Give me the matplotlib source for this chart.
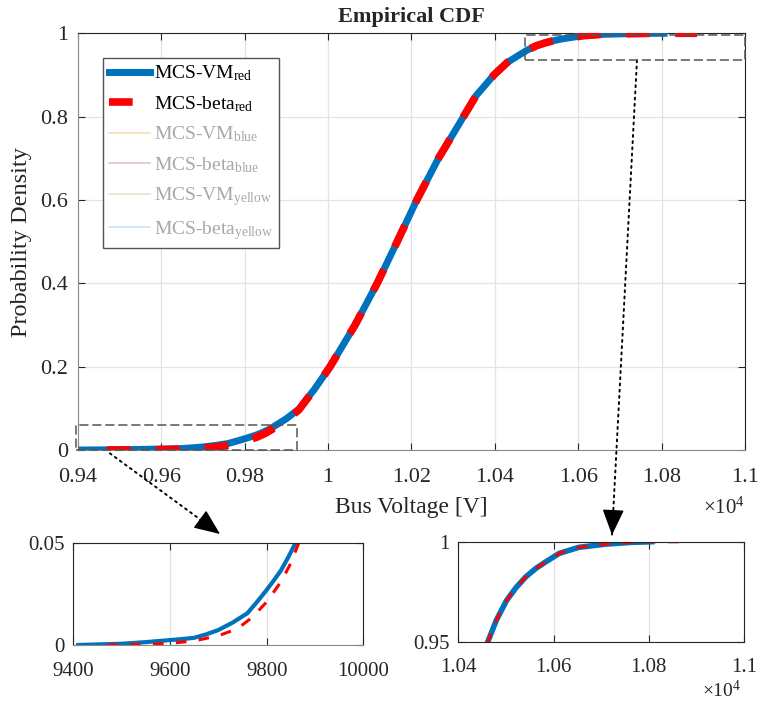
import matplotlib
matplotlib.use("Agg")
import matplotlib.pyplot as plt
from matplotlib.patches import Rectangle

plt.rcParams['font.family'] = ['Liberation Serif', 'DejaVu Serif']
plt.rcParams['mathtext.fontset'] = 'custom'
plt.rcParams['mathtext.rm'] = 'Liberation Serif'
plt.rcParams['mathtext.it'] = 'Liberation Serif:italic'
plt.rcParams['mathtext.bf'] = 'Liberation Serif:bold'
plt.rcParams['text.color'] = '#262626'
plt.rcParams['axes.labelcolor'] = '#262626'

# empirical CDFs, bus voltage in V
vm_x = [9410, 9500, 9550, 9600, 9625, 9650, 9675, 9700, 9730, 9760, 9780, 9800,
        9815, 9830, 9845, 9860, 9900, 9930, 9967,
        10005, 10065, 10118, 10166, 10213, 10265, 10325, 10355, 10398, 10430,
        10462, 10480, 10501, 10521, 10542, 10563, 10584, 10612, 10653, 10709,
        10764, 10806]
vm_f = [0.0, 0.0006, 0.0014, 0.0024, 0.0029, 0.0035, 0.0052, 0.0073, 0.011,
        0.0155, 0.021, 0.0269, 0.0316, 0.0366, 0.043, 0.05, 0.075, 0.098, 0.145,
        0.2, 0.3, 0.4, 0.5, 0.6, 0.7, 0.8, 0.85, 0.9, 0.93,
        0.95, 0.9608, 0.9705, 0.977, 0.9825, 0.9867, 0.99, 0.9942, 0.9972, 0.9988,
        0.9997, 1.0]

beta_x = [9470, 9550, 9600, 9650, 9700, 9740, 9770, 9800, 9830, 9850, 9870, 9900,
          9930, 9967, 10005, 10065, 10118, 10166, 10213, 10265, 10325, 10355,
          10398, 10430, 10462, 10480, 10501, 10521, 10542, 10563, 10584, 10612,
          10653, 10709, 10764, 10806, 10885]
beta_f = [0.0, 0.0003, 0.0008, 0.002, 0.0045, 0.008, 0.0135, 0.021, 0.031, 0.04,
          0.052, 0.072, 0.096, 0.145, 0.2, 0.3, 0.4, 0.5, 0.6, 0.7, 0.8, 0.85,
          0.9, 0.93, 0.95, 0.9608, 0.9705, 0.977, 0.9825, 0.9867, 0.99, 0.9942,
          0.9972, 0.9988, 0.9997, 1.0, 1.0]

labels = [r'MCS-VM$_{\mathrm{red}}$', r'MCS-beta$_{\mathrm{red}}$',
          r'MCS-VM$_{\mathrm{blue}}$', r'MCS-beta$_{\mathrm{blue}}$',
          r'MCS-VM$_{\mathrm{yellow}}$', r'MCS-beta$_{\mathrm{yellow}}$']
faded_colors = ['#f6dfb4', '#dcc4dc', '#dfe8cc', '#cbe6f5']

main_xticks = [9400, 9600, 9800, 10000, 10200, 10400, 10600, 10800, 11000]
main_xlabels = ['0.94', '0.96', '0.98', '1', '1.02', '1.04', '1.06', '1.08', '1.1']
main_yticks = [0, 0.2, 0.4, 0.6, 0.8, 1]
main_ylabels = ['0', '0.2', '0.4', '0.6', '0.8', '1']

low_xticks = [9400, 9600, 9800, 10000]
low_yticks = [0, 0.05]
high_xticks = [10400, 10600, 10800, 11000]
high_xlabels = ['1.04', '1.06', '1.08', '1.1']
high_yticks = [0.95, 1]

# zoom windows marked on the main plot
low_box = [9396, 9925, 0.0, 0.06]
high_box = [10472, 11000, 0.935, 0.995]

blue = '#0072bd'
dark = '#262626'


def style(ax, fs):
    ax.tick_params(direction='in', top=True, right=True, labelsize=fs,
                   colors=dark, length=5, width=0.8)
    ax.grid(True, color='#e3e3e3', lw=0.9)
    ax.set_axisbelow(True)
    for s in ax.spines.values():
        s.set_color(dark)
        s.set_linewidth(0.8)


fig = plt.figure(figsize=(7.58, 7.08), dpi=100)

ax = fig.add_axes([0.1026, 0.3644, 0.8802, 0.5886])
ax.plot(vm_x, vm_f, color=blue, lw=5, label=labels[0], zorder=3)
ax.plot(beta_x, beta_f, color='red', lw=5.5, dashes=(3.1, 3.3),
        label=labels[1], zorder=4)
for lab, c in zip(labels[2:], faded_colors):
    ax.plot([], [], color=c, lw=1.2, label=lab)
ax.set_xlim(9400, 11000)
ax.set_ylim(0, 1)
ax.set_xticks(main_xticks, main_xlabels)
ax.set_yticks(main_yticks, main_ylabels)
style(ax, 16)
ax.tick_params(axis='x', pad=13)
ax.tick_params(axis='y', pad=7)
ax.spines['left'].set_color('#8a8a8a')
ax.spines['bottom'].set_color('#8a8a8a')
ax.set_title('Empirical CDF', fontsize=16, fontweight='bold', pad=8)
ax.set_xlabel('Bus Voltage [V]', fontsize=17, labelpad=7)
ax.set_ylabel('Probability Density', fontsize=17.5, labelpad=6)
ax.text(1.0, -0.14, r'$\times$10$^{4}$', transform=ax.transAxes,
        ha='right', va='center', fontsize=15)

leg = ax.legend(loc='upper left', bbox_to_anchor=(0.038, 0.941), fontsize=14,
                handlelength=2.1, handletextpad=0.2, labelspacing=0.55,
                borderaxespad=0, borderpad=0.3, fancybox=False,
                edgecolor='#555555', framealpha=1)
leg.get_frame().set_linewidth(1.0)
for i, t in enumerate(leg.get_texts()):
    t.set_color('black' if i < 2 else '#a8a8a8')

for bx in (low_box, high_box):
    ax.add_patch(Rectangle((bx[0], bx[2]), bx[1] - bx[0], bx[3] - bx[2],
                           fill=False, ec='#555555', lw=1.1,
                           ls=(0, (6, 2.5)), clip_on=False, zorder=5))

# lower-left inset
ax1 = fig.add_axes([0.0967, 0.089, 0.3826, 0.1445])
ax1.plot(vm_x, vm_f, color=blue, lw=3)
ax1.plot(beta_x, beta_f, color='red', lw=2.2, dashes=(3.5, 4))
ax1.set_xlim(9400, 10000)
ax1.set_ylim(0, 0.05)
ax1.set_xticks(low_xticks, [str(v) for v in low_xticks])
ax1.set_yticks(low_yticks, ['0', '0.05'])
style(ax1, 15)
ax1.tick_params(axis='x', pad=12)
ax1.tick_params(axis='y', pad=6)
ax1.spines['bottom'].set_color('#8a8a8a')

# lower-right inset
ax2 = fig.add_axes([0.6046, 0.0936, 0.377, 0.1412])
ax2.plot(vm_x, vm_f, color=blue, lw=4)
ax2.plot(beta_x, beta_f, color='red', lw=2.2, dashes=(3.5, 4))
ax2.set_xlim(10400, 11000)
ax2.set_ylim(0.95, 1)
ax2.set_xticks(high_xticks, high_xlabels)
ax2.set_yticks(high_yticks, ['0.95', '1'])
style(ax2, 15)
ax2.tick_params(axis='x', pad=12)
ax2.tick_params(axis='y', pad=6)
ax2.text(0.99, -0.49, r'$\times$10$^{4}$', transform=ax2.transAxes,
         ha='right', va='center', fontsize=14)

# dotted arrows from the boxes to the insets: dotted shaft + solid head
shaft = dict(arrowstyle='-', color='black', lw=1.4, linestyle=(0, (1, 2.2)),
             shrinkA=0, shrinkB=0)
head = dict(arrowstyle='-|>,head_length=0.9,head_width=0.38', color='black',
            lw=1, mutation_scale=18, shrinkA=0, shrinkB=0)
arrows = [((9477, -0.008), (220, 174), (205.5, 184.7)),
          ((10741, 0.935), (612, 173), (612.9, 191))]
for start, tip, back in arrows:
    ax.annotate('', xy=tip, xycoords='figure pixels', xytext=start,
                textcoords='data', arrowprops=shaft, annotation_clip=False)
    ax.annotate('', xy=tip, xycoords='figure pixels', xytext=back,
                textcoords='figure pixels', arrowprops=head,
                annotation_clip=False)

fig.savefig('out.png', dpi=100)
